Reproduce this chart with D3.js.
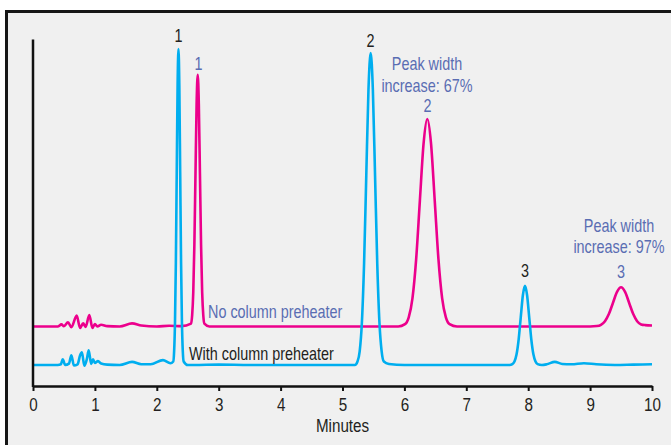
<!DOCTYPE html>
<html>
  <head>
    <title> Column preheater chromatogram </title>
    <script src = "https://d3js.org/d3.v7.min.js" charset = "utf-8"></script>
    <style>
      body { margin: 0; background: #fff; }
      text { font-family: "Liberation Sans", Arial, sans-serif; }
    </style>
  </head>
  <body>
    <script>
      // x ticks (minutes)
      var xTicks = [0, 1, 2, 3, 4, 5, 6, 7, 8, 9, 10];

      // with column preheater (blue trace), time in minutes
      var blueTimes = [0, 0.4, 0.45, 0.48, 0.52, 0.58, 0.62, 0.66, 0.72, 0.76, 0.79, 0.83, 0.87, 0.9, 0.94, 0.97, 1.0, 1.05, 1.1, 1.2, 1.4, 1.6, 1.75, 1.9, 2.1, 2.22,
        2.266, 2.28, 2.294, 2.308, 2.322, 2.336, 2.35, 2.364, 2.378, 2.392, 2.406, 2.42, 2.434,
        2.5, 2.6, 3.0, 3.5, 4.0, 4.5, 5.0, 5.2,
        5.242, 5.2775, 5.313, 5.3485, 5.384, 5.4195, 5.455, 5.4905, 5.526, 5.5615, 5.597, 5.6325, 5.668,
        5.75, 6.0, 6.5, 7.0, 7.5, 7.7,
        7.744, 7.778, 7.812, 7.846, 7.88, 7.914, 7.948, 7.982, 8.016, 8.05, 8.084, 8.118, 8.152,
        8.22, 8.3, 8.43, 8.55, 8.7, 8.9, 9.1, 9.4, 9.7, 10];
      var blueValues = [6, 6, 6.2, 7.6, 6.0, 6.4, 8.8, 5.9, 6.2, 8.7, 9.6, 5.8, 7.7, 10.2, 6.3, 7.6, 6.6, 7.1, 6.4, 6.1, 6.0, 6.9, 6.2, 6.2, 7.4, 6.5,
        7.0, 9.96, 18.2, 35.3, 60.8, 85.7, 96.3, 85.7, 60.8, 35.3, 18.2, 9.96, 7.0,
        6.0, 6.0, 6.1, 6.0, 6.0, 6.0, 6.0, 6.0,
        6.99, 9.91, 18.06, 34.93, 60.04, 84.63, 95.1, 84.63, 60.04, 34.93, 18.06, 9.91, 6.99,
        6.3, 6.0, 6.0, 6.0, 6.0, 6.0,
        6.25, 6.99, 9.06, 13.34, 19.71, 25.94, 28.6, 25.94, 19.71, 13.34, 9.06, 6.99, 6.25,
        6.0, 6.2, 6.9, 6.3, 6.2, 6.5, 6.2, 6.0, 6.1, 6.2];

      // no column preheater (magenta trace)
      var pinkTimes = [0, 0.4, 0.46, 0.5, 0.565, 0.62, 0.706, 0.76, 0.81, 0.85, 0.91, 0.96, 1.0, 1.04, 1.1, 1.2, 1.4, 1.6, 1.75, 2.0, 2.2, 2.4,
        2.553, 2.571, 2.589, 2.607, 2.625, 2.643, 2.661, 2.679, 2.697, 2.715, 2.733, 2.751, 2.769,
        2.85, 3.5, 4.5, 5.5, 5.9,
        6.01, 6.07, 6.13, 6.19, 6.25, 6.31, 6.37, 6.43, 6.49, 6.55, 6.61, 6.67, 6.73,
        6.85, 7.5, 8.5, 9.0,
        9.11, 9.175, 9.24, 9.305, 9.37, 9.435, 9.5, 9.565, 9.63, 9.695, 9.76, 9.825, 9.89, 10];
      var pinkValues = [17, 17, 17.6, 17.1, 18.2, 16.8, 20.1, 16.6, 17.9, 16.9, 20.3, 16.6, 17.7, 17.0, 17.5, 17.1, 17.0, 17.9, 17.3, 17.0, 17.2, 17.1,
        17.8, 20.16, 26.73, 40.35, 60.61, 80.45, 88.9, 80.45, 60.61, 40.35, 26.73, 20.16, 17.8,
        17.0, 17.0, 17.0, 17.0, 17.0,
        17.66, 19.6, 25.02, 36.25, 52.97, 69.33, 76.3, 69.33, 52.97, 36.25, 25.02, 19.6, 17.66,
        17.0, 17.0, 17.0, 17.0,
        17.12, 17.49, 18.52, 20.64, 23.79, 26.88, 28.2, 26.88, 23.79, 20.64, 18.52, 17.6, 17.4, 17.3];

      var yAxisTop = 99;

      var width = 671;
      var height = 445;
      var blue = "#00aeef";
      var pink = "#ec008c";
      var labelBlue = "#5a6db3";
      var ink = "#231f20";
      var narrow = "scale(0.8,1)"; // condensed look

      var svg = d3.select("body")
        .append("svg")
        .attr("width", width)
        .attr("height", height);

      // panel frame
      svg.append("rect")
        .attr("x", 6.5).attr("y", 11.5)
        .attr("width", 700).attr("height", 500)
        .attr("fill", "#f0f0f0")
        .attr("stroke", "#161616")
        .attr("stroke-width", 3);

      var x = d3.scaleLinear().domain([0, 10]).range([33, 652]);
      var y = d3.scaleLinear().domain([0, 100]).range([386, 36]);

      var line = d3.line()
        .x(function(d){ return x(d[0]); })
        .y(function(d){ return y(d[1]); })
        .curve(d3.curveMonotoneX);

      var pinkData = pinkTimes.map(function(t, i){ return [t, pinkValues[i]]; });
      var blueData = blueTimes.map(function(t, i){ return [t, blueValues[i]]; });

      svg.append("path")
        .datum(pinkData)
        .attr("fill", "none")
        .attr("stroke", pink)
        .attr("stroke-width", 2.6)
        .attr("stroke-linejoin", "round")
        .attr("d", line);

      svg.append("path")
        .datum(blueData)
        .attr("fill", "none")
        .attr("stroke", blue)
        .attr("stroke-width", 2.6)
        .attr("stroke-linejoin", "round")
        .attr("d", line);

      // axes
      var xAxis = svg.append("g")
        .attr("transform", "translate(0," + y(0) + ")")
        .call(d3.axisBottom(x).tickValues(xTicks).tickSize(5).tickSizeOuter(0).tickPadding(7));
      xAxis.select(".domain").attr("stroke", "#111").attr("stroke-width", 2.5);
      xAxis.selectAll(".tick line").attr("stroke", "#111").attr("stroke-width", 2);
      xAxis.selectAll(".tick text")
        .attr("fill", ink)
        .attr("transform", narrow)
        .style("font-family", "'Liberation Sans', Arial, sans-serif")
        .style("font-size", "19px");

      svg.append("line")
        .attr("x1", x(0)).attr("x2", x(0))
        .attr("y1", y(0) + 1).attr("y2", y(yAxisTop))
        .attr("stroke", "#111")
        .attr("stroke-width", 2.5);

      // peak labels
      function label(txt, px, py, color, anchor, size){
        svg.append("g")
          .attr("transform", "translate(" + px + "," + py + ")")
          .append("text")
          .attr("transform", narrow)
          .attr("text-anchor", anchor || "middle")
          .attr("fill", color)
          .style("font-size", (size || 18) + "px")
          .text(txt);
      }

      label("Minutes", x(5), 432, ink, "middle", 19);

      label("1", 178.5, 42, ink);
      label("1", 198.5, 70, labelBlue);
      label("2", 370.5, 47, ink);
      label("Peak width", 427, 70, labelBlue);
      label("increase: 67%", 427, 91.5, labelBlue);
      label("2", 427.5, 112, labelBlue);
      label("3", 525, 277, ink);
      label("Peak width", 619, 232, labelBlue);
      label("increase: 97%", 619, 253, labelBlue);
      label("3", 621, 278, labelBlue);
      label("No column preheater", 208, 318, labelBlue, "start");
      label("With column preheater", 189, 360, ink, "start");
    </script>
  </body>
</html>
